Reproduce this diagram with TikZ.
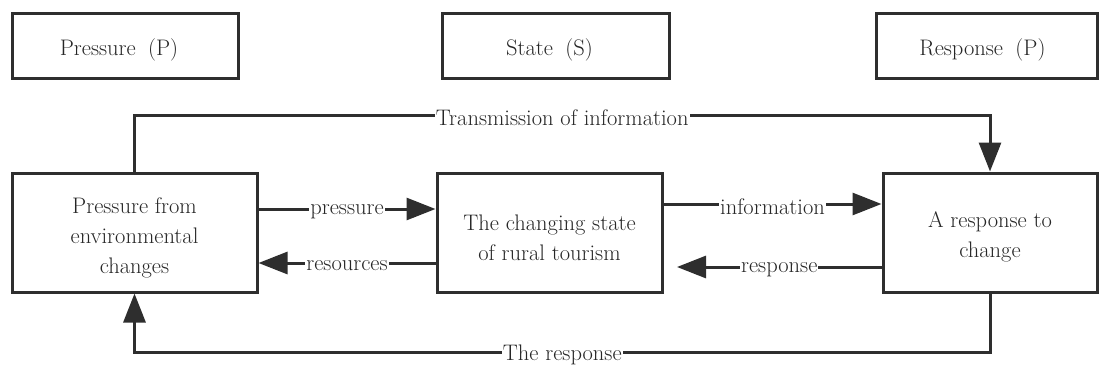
\documentclass[tikz,border=0pt]{standalone}
\usetikzlibrary{arrows.meta,calc}
\begin{document}
\begin{tikzpicture}[x=1pt,y=-1pt,
  every node/.style={font=\fontsize{22.5}{30}\selectfont, text=black!85},
  box/.style={draw=black!82, line width=3pt, minimum height=119pt, inner sep=0pt},
  topbox/.style={draw=black!82, line width=3pt, minimum height=64pt, inner sep=0pt},
  txt/.style={align=center, inner sep=0pt},
  arr/.style={draw=black!82, line width=3pt, -{Triangle[length=29pt,width=22pt]}},
  lbl/.style={fill=white, inner sep=1pt, yshift=-3pt}
]
\useasboundingbox (0,0) rectangle (1099,369);
% top header boxes
\node[topbox, minimum width=226pt] (hp) at (125,46) {};
\node[topbox, minimum width=227pt] (hs) at (555.5,46) {};
\node[topbox, minimum width=221pt] (hr) at (986.5,46) {};
\node[txt] (hpt) at ($(hp)+(-6,4)$) {Pressure\hspace{0.55em}(P)};
\node[txt] (hst) at ($(hs)+(-6,4)$) {State\hspace{0.55em}(S)};
\node[txt] (hrt) at ($(hr)+(-4,4)$) {Response\hspace{0.55em}(P)};
% main boxes
\node[box, minimum width=245pt] (L) at (134.5,232.5) {};
\node[box, minimum width=225pt] (M) at (549.5,232.5) {};
\node[box, minimum width=214pt] (R) at (990,232.5) {};
\node[txt] (Lt) at ($(L)+(0,5)$) {Pressure from\\environmental\\changes};
\node[txt] (Mt) at ($(M)+(0,5)$) {The changing state\\of rural tourism};
\node[txt] (Rt) at ($(R)+(0,4)$) {A response to\\change};
% helper coordinates
\coordinate (t1) at (L.north |- 0,115);
\coordinate (t2) at (R.north |- 0,115);
\coordinate (b1) at (R.south |- 0,352);
\coordinate (b2) at (L.south |- 0,352);
\coordinate (rt) at (677,267);
% connectors
\draw[arr] (L.north) -- (t1) -- node[lbl]{Transmission of information} (t2) -- (R.north);
\draw[arr] (R.south) -- (b1) -- node[lbl]{The response} (b2) -- (L.south);
\draw[arr] (L.east |- 0,209) -- node[lbl]{pressure} (M.west |- 0,209);
\draw[arr] (M.west |- 0,263) -- node[lbl]{resources} (L.east |- 0,263);
\draw[arr] (M.east |- 0,204) -- node[lbl]{information} (R.west |- 0,204);
\draw[arr] (R.west |- 0,267) -- node[lbl]{response} (rt);
\end{tikzpicture}
\end{document}
